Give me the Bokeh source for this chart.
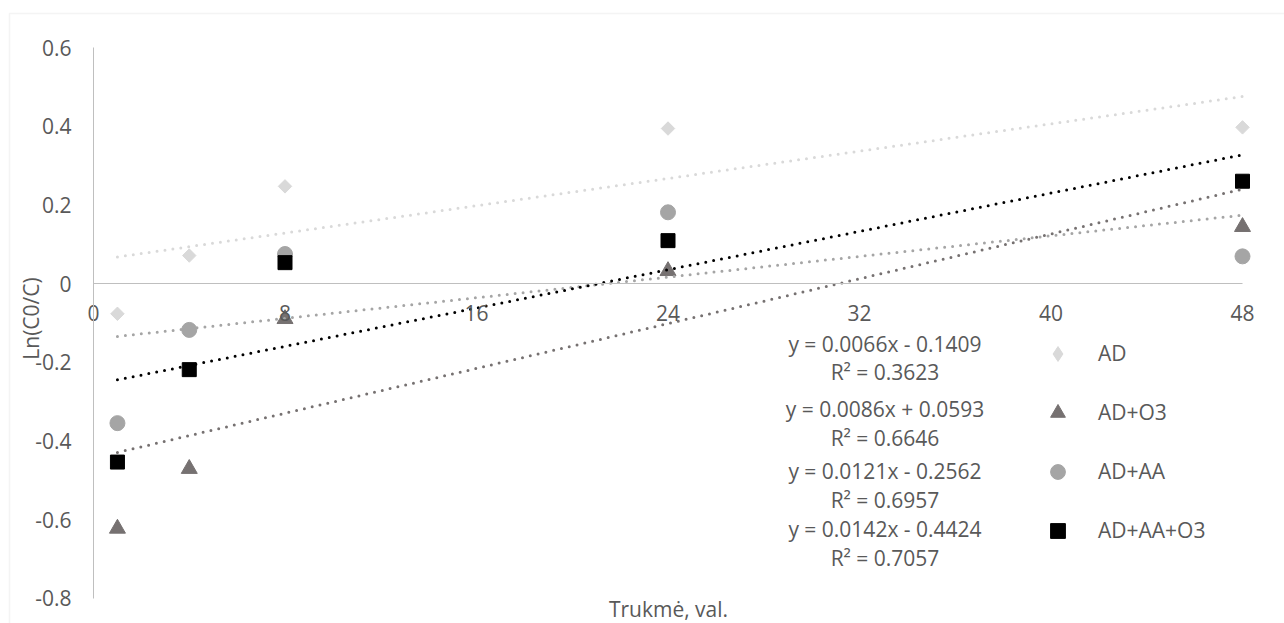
import numpy as np
from bokeh.plotting import figure
from bokeh.models import (Range1d, LinearAxis, FixedTicker, Label, Legend, LegendItem,
                          BoxAnnotation, NumeralTickFormatter)
from bokeh.embed import file_html
from bokeh.resources import INLINE

# ---------------- data ----------------
hours = [1, 4, 8, 24, 48]
ad = [-0.077, 0.071, 0.247, 0.394, 0.397]
ad_o3 = [-0.623, -0.471, -0.090, 0.032, 0.144]
ad_aa = [-0.355, -0.118, 0.075, 0.181, 0.069]
ad_aa_o3 = [-0.454, -0.219, 0.053, 0.109, 0.260]

series_names = ["AD", "AD+O3", "AD+AA", "AD+AA+O3"]
equations = ["y = 0.0066x - 0.1409", "y = 0.0086x + 0.0593",
             "y = 0.0121x - 0.2562", "y = 0.0142x - 0.4424"]
r_squared = ["R² = 0.3623", "R² = 0.6646", "R² = 0.6957", "R² = 0.7057"]

x_ticks = [0, 8, 16, 24, 32, 40, 48]
y_ticks = [-0.8, -0.6, -0.4, -0.2, 0, 0.2, 0.4, 0.6]
y_tick_labels = ["-0.8", "-0.6", "-0.4", "-0.2", "0", "0.2", "0.4", "0.6"]
x_title = "Trukmė, val."
y_title = "Ln(C0/C)"

# ---------------- layout ----------------
W, H = 1284, 623
X_PX0, X_PX48 = 93.0, 1242.0
Y_PX0, Y_PX06 = 283.0, 47.0
kx = (X_PX48 - X_PX0) / 48.0
ky = (Y_PX0 - Y_PX06) / 0.6


def dx(px):
    return (px - X_PX0) / kx


def dy(py):
    return (Y_PX0 - py) / ky


FONT = "Open Sans"
FS = "21px"
TXT = "#595959"
AXIS = "#bfbfbf"
C_AD, C_O3, C_AA, C_AAO3 = "#d9d9d9", "#767171", "#a5a5a5", "#000000"

p = figure(width=W, height=H,
           x_range=Range1d(dx(0), dx(W)), y_range=Range1d(dy(H), dy(0)),
           output_backend="svg", toolbar_location=None,
           x_axis_location=None, y_axis_location=None,
           min_border=0, outline_line_color=None,
           background_fill_color="white", border_fill_color="white")
p.xgrid.grid_line_color = None
p.ygrid.grid_line_color = None

# outer chart border
p.add_layout(BoxAnnotation(left=dx(9), right=dx(1500), top=dy(13), bottom=dy(800),
                           fill_alpha=0, line_color="#d9d9d9", line_width=1.5))

# axes
yax = LinearAxis(fixed_location=0, bounds=(-0.8, 0.6),
                 ticker=FixedTicker(ticks=y_ticks),
                 formatter=NumeralTickFormatter(format="0.[0]"),
                 major_label_overrides={t: l for t, l in zip(y_ticks, y_tick_labels)},
                 axis_line_color=AXIS, axis_line_width=1,
                 major_tick_line_color=None, minor_tick_line_color=None,
                 major_tick_in=0, major_tick_out=0, minor_tick_in=0, minor_tick_out=0,
                 major_label_standoff=22,
                 major_label_text_font=FONT, major_label_text_font_size=FS,
                 major_label_text_color=TXT)
p.add_layout(yax, "left")

xax = LinearAxis(fixed_location=0, bounds=(0, 48),
                 ticker=FixedTicker(ticks=x_ticks),
                 axis_line_color=AXIS, axis_line_width=1,
                 major_tick_line_color=None, minor_tick_line_color=None,
                 major_tick_in=0, major_tick_out=0, minor_tick_in=0, minor_tick_out=0,
                 major_label_standoff=21,
                 major_label_text_font=FONT, major_label_text_font_size=FS,
                 major_label_text_color=TXT)
p.add_layout(xax, "below")

# axis titles
p.add_layout(Label(x=dx(668), y=dy(608), text=x_title, text_align="center",
                   text_baseline="middle", text_font=FONT, text_font_size=FS,
                   text_color=TXT))
p.add_layout(Label(x=dx(30), y=dy(318), text=y_title, angle=np.pi / 2,
                   text_align="center", text_baseline="middle", text_font=FONT,
                   text_font_size=FS, text_color=TXT))

# markers (the small diamond renderer only supplies the legend glyph; it is hidden
# underneath the rotated squares in the plot area)
r_ad_leg = p.scatter(hours, ad, marker="diamond", size=2, fill_color=C_AD, line_color=C_AD)
r_ad = p.scatter(hours, ad, marker="square", angle=np.pi / 4, size=9.5,
                 fill_color=C_AD, line_color=C_AD)
r_o3 = p.scatter(hours, ad_o3, marker="triangle", size=16, fill_color=C_O3, line_color=C_O3)
r_aa = p.scatter(hours, ad_aa, marker="circle", size=15, fill_color=C_AA, line_color=C_AA)
r_aao3 = p.scatter(hours, ad_aa_o3, marker="square", size=14, fill_color=C_AAO3, line_color=C_AAO3)

# linear trendlines (least squares fit of each series)
for ys, col in [(ad, C_AD), (ad_o3, C_O3), (ad_aa, C_AA), (ad_aa_o3, C_AAO3)]:
    slope, icpt = np.polyfit(hours, ys, 1)
    xs = np.array([min(hours), max(hours)], dtype=float)
    p.line(xs, slope * xs + icpt, line_color=col, line_width=3,
           line_dash="0 8", line_cap="round")

# trendline equation labels
eq_px_y = [343, 408, 470, 528]
r2_px_y = [371, 437, 499, 557]
EQ_PX_X = 884.5
for eq, r2, ey, ry in zip(equations, r_squared, eq_px_y, r2_px_y):
    p.add_layout(Label(x=dx(EQ_PX_X), y=dy(ey), text=eq, text_align="center",
                       text_baseline="middle", text_font=FONT, text_font_size=FS,
                       text_color=TXT))
    p.add_layout(Label(x=dx(EQ_PX_X), y=dy(ry), text=r2, text_align="center",
                       text_baseline="middle", text_font=FONT, text_font_size=FS,
                       text_color=TXT))

legend = Legend(items=[LegendItem(label=n, renderers=[r]) for n, r in
                       zip(series_names, [r_ad_leg, r_o3, r_aa, r_aao3])],
                location=(1039, 74.5), orientation="vertical",
                glyph_width=37, glyph_height=37, label_height=37,
                spacing=22, label_standoff=22, padding=0, margin=0,
                border_line_color=None, background_fill_alpha=0,
                label_text_font=FONT, label_text_font_size=FS, label_text_color=TXT)
p.add_layout(legend)

open("out.html", "w").write(file_html(p, INLINE))
